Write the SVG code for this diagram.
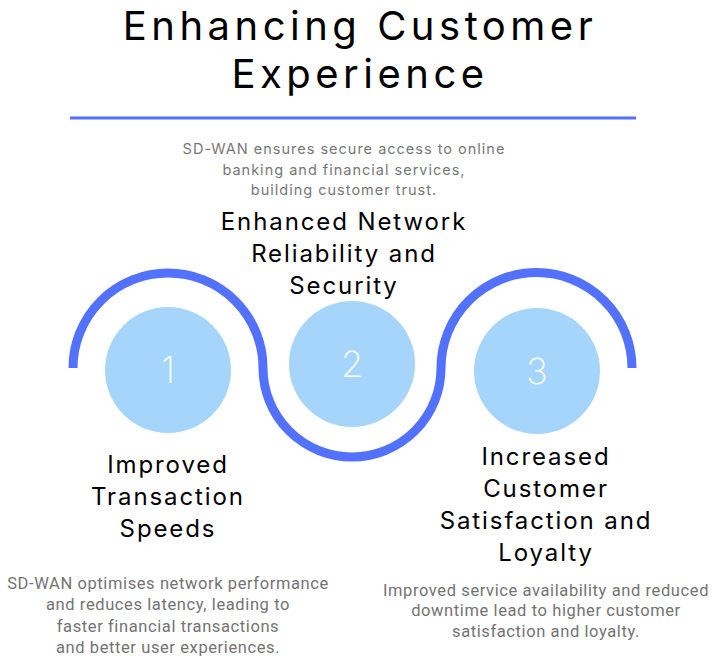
<svg xmlns="http://www.w3.org/2000/svg" width="714" height="657" viewBox="0 0 714 657">
<style>
.title{font-family:Inter,"Noto Sans",sans-serif;font-size:40px;fill:#000;letter-spacing:4.5px;text-anchor:middle}
.head{font-family:Inter,"Noto Sans",sans-serif;font-size:24px;fill:#000;letter-spacing:1.9px;text-anchor:middle}
.desc{font-family:Inter,"Noto Sans",sans-serif;font-size:14.5px;fill:#777;letter-spacing:1px;text-anchor:middle}
.desc2{font-family:Roboto,"Noto Sans",sans-serif;font-size:16.5px;fill:#737373;letter-spacing:0.6px;text-anchor:middle}
.num{font-family:Inter,"Noto Sans",sans-serif;font-size:36px;font-weight:200;fill:#fff;text-anchor:middle}
.circ{fill:#A6D5FB}
.wave{fill:none;stroke:#5271FF;stroke-width:9}
</style>
<rect width="714" height="657" fill="#fff"/>
<g id="title">
<text class="title" x="360" y="40">Enhancing Customer</text>
<text class="title" x="360" y="88">Experience</text>
<line x1="70" y1="118" x2="636" y2="118" stroke="#5271FF" stroke-width="3"/>
</g>
<g id="connectors">
<path class="wave" d="M73,368 A95,95 0 0 1 263,368 A89,89 0 0 0 441,368 A95,95 0 0 1 632,368"/>
</g>
<g id="node1">
<circle class="circ" cx="168" cy="370" r="63"/>
<text class="num" x="168" y="383">1</text>
<text class="head" x="168" y="473">Improved</text>
<text class="head" x="168" y="505">Transaction</text>
<text class="head" x="168" y="537">Speeds</text>
<text class="desc2" x="168" y="589">SD-WAN optimises network performance</text>
<text class="desc2" x="168" y="610">and reduces latency, leading to</text>
<text class="desc2" x="168" y="632">faster financial transactions</text>
<text class="desc2" x="168" y="653">and better user experiences.</text>
</g>
<g id="node2">
<circle class="circ" cx="352" cy="364" r="63"/>
<text class="num" x="352" y="377">2</text>
<text class="desc" x="344" y="154">SD-WAN ensures secure access to online</text>
<text class="desc" x="344" y="175">banking and financial services,</text>
<text class="desc" x="344" y="195">building customer trust.</text>
<text class="head" x="344" y="230">Enhanced Network</text>
<text class="head" x="344" y="262">Reliability and</text>
<text class="head" x="344" y="294">Security</text>
</g>
<g id="node3">
<circle class="circ" cx="537" cy="371" r="63"/>
<text class="num" x="537" y="384">3</text>
<text class="head" x="546" y="465">Increased</text>
<text class="head" x="546" y="497">Customer</text>
<text class="head" x="546" y="529">Satisfaction and</text>
<text class="head" x="546" y="561">Loyalty</text>
<text class="desc2" x="546" y="596">Improved service availability and reduced</text>
<text class="desc2" x="546" y="616">downtime lead to higher customer</text>
<text class="desc2" x="546" y="637">satisfaction and loyalty.</text>
</g>
</svg>
